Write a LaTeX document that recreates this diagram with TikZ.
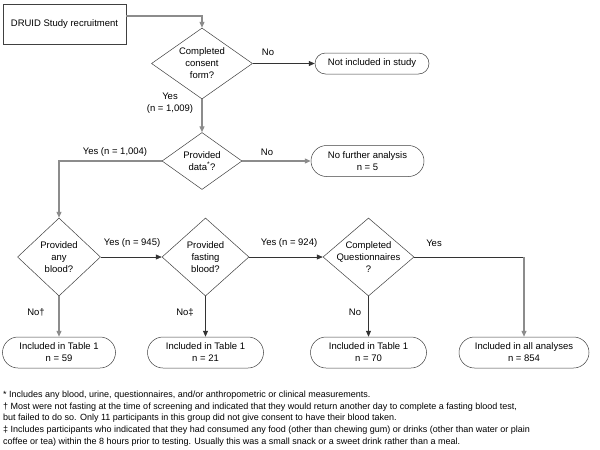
\documentclass[tikz,border=0pt]{standalone}
\usepackage{fontspec}
\setmainfont{Liberation Sans}
\usetikzlibrary{arrows.meta,shapes.geometric,shapes.misc}
\begin{document}
\begin{tikzpicture}[x=1pt,y=-1pt,
  txt/.style={font=\fontsize{9.5}{12}\selectfont, align=center, inner sep=0pt},
  box/.style={draw=black!75, line width=0.5pt, rectangle, inner sep=0pt, font=\fontsize{9.5}{12}\selectfont},
  dia/.style={draw=black!75, line width=0.5pt, shape=diamond, inner sep=0pt},
  term/.style={draw=black!75, line width=0.5pt, shape=rounded rectangle, inner sep=0pt, font=\fontsize{9.5}{12}\selectfont, align=center},
  gl/.style={draw=black!45, line width=1.3pt},
  bl/.style={draw=black!80, line width=0.6pt},
  arr/.style={-{Triangle[length=6pt,width=5pt]}},
]
\useasboundingbox[fill=white] (0,0) rectangle (600,450);

% nodes
\node[box, minimum width=123pt, minimum height=40pt] (start) at (64.5,24) {DRUID Study recruitment};

\node[dia, minimum width=101pt, minimum height=71pt] (d1) at (202,63.5) {};
\node[txt] (t1) at (d1.center) {Completed\\consent\\form?};

\node[term, minimum width=114pt, minimum height=21pt] (o1) at (372,63.5) {Not included in study};

\node[dia, minimum width=80pt, minimum height=57pt] (d2) at (202,161) {};
\node[txt] (t2) at (d2.center) {Provided\\data\textsuperscript{*}?};

\node[term, minimum width=113pt, minimum height=31pt] (o2) at (367.5,161) {No further analysis\\n = 5};

\node[dia, minimum width=83pt, minimum height=78pt] (d3) at (59,257) {};
\node[txt] (t3) at (d3.center) {Provided\\any\\blood?};

\node[dia, minimum width=87pt, minimum height=78pt] (d4) at (205.5,257) {};
\node[txt] (t4) at (d4.center) {Provided\\fasting\\blood?};

\node[dia, minimum width=91pt, minimum height=78pt] (d5) at (368.5,257) {};
\node[txt] (t5) at (d5.center) {Completed\\Questionnaires\\?};

\node[term, minimum width=113pt, minimum height=31pt] (b1) at (59,352.5) {Included in Table 1\\n = 59};
\node[term, minimum width=116pt, minimum height=31pt] (b2) at (205.5,352.5) {Included in Table 1\\n = 21};
\node[term, minimum width=116pt, minimum height=31pt] (b3) at (368.5,352.5) {Included in Table 1\\n = 70};
\node[term, minimum width=130pt, minimum height=31pt] (b4) at (524,352.5) {Included in all analyses\\n = 854};

\coordinate (c5) at (b4.north |- d5.east);

% connectors
\draw[gl,arr] ([yshift=8pt]start.east) -| (d1.north);
\draw[bl,arr] (d1.east) -- (o1.west);
\draw[gl,arr] (d1.south) -- (d2.north);
\draw[gl,arr] (d2.east) -- (o2.west);
\draw[gl,arr] (d2.west) -| (d3.north);
\draw[bl,arr] (d3.east) -- (d4.west);
\draw[bl,arr] (d4.east) -- (d5.west);
\draw[bl] (d5.east) -- (c5);
\draw[gl,arr] (c5) -- (b4.north);
\draw[gl,arr] (d3.south) -- (b1.north);
\draw[bl,arr] (d4.south) -- (b2.north);
\draw[bl,arr] (d5.south) -- (b3.north);

% labels
\node[txt] (l1) at (268,52) {No};
\node[txt] (l2) at (170,103.5) {Yes\\(n = 1,009)};
\node[txt] (l3) at (115,152) {Yes (n = 1,004)};
\node[txt] (l4) at (267,152) {No};
\node[txt] (l5) at (132,243) {Yes (n = 945)};
\node[txt] (l6) at (289,243) {Yes (n = 924)};
\node[txt] (l7) at (434,243) {Yes};
\node[txt] (l8) at (36,312) {No†};
\node[txt] (l9) at (185,312) {No‡};
\node[txt] (l10) at (355,312) {No};

% footnotes
\node[anchor=north west, align=left, inner sep=0pt, font=\fontsize{9}{11.6}\selectfont] (fn) at (3,391) {%
* Includes any blood, urine, questionnaires, and/or anthropometric or clinical measurements.\\
† Most were not fasting at the time of screening and indicated that they would return another day to complete a fasting blood test,\\
but failed to do so. Only 11 participants in this group did not give consent to have their blood taken.\\
‡ Includes participants who indicated that they had consumed any food (other than chewing gum) or drinks (other than water or plain\\
coffee or tea) within the 8 hours prior to testing. Usually this was a small snack or a sweet drink rather than a meal.};
\end{tikzpicture}
\end{document}
